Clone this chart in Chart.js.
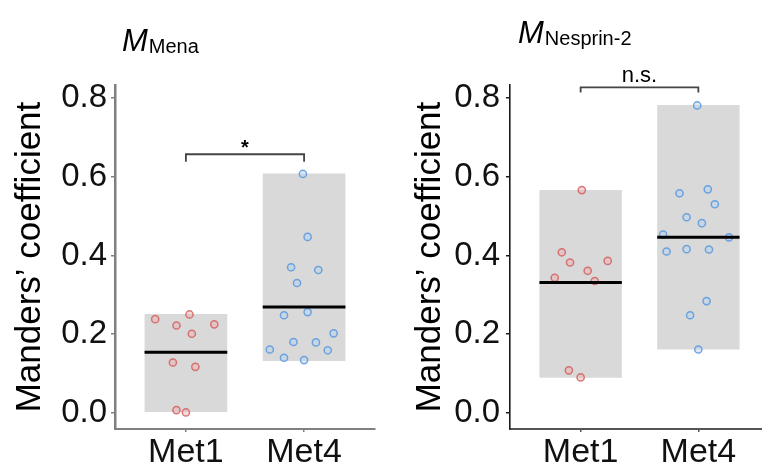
<!DOCTYPE html>
<html>
<head>
<meta charset="utf-8">
<script src="https://cdn.jsdelivr.net/npm/chart.js@4.4.1/dist/chart.umd.min.js"></script>
<style>
  html, body { margin: 0; padding: 0; background: #fff; overflow: hidden; }
  #wrap { position: relative; width: 762px; height: 467px; overflow: hidden; }
  #left { position: absolute; left: 0; top: 0; }
  #right { position: absolute; left: 381px; top: 0; }
</style>
</head>
<body>
<div id="wrap">
  <canvas id="left" width="381" height="467"></canvas>
  <canvas id="right" width="400" height="467"></canvas>
</div>
<script>
// categories and axes
const categories = ['Met1', 'Met4'];
const categoryPos = [1, 2];
const yTicks = [0, 0.2, 0.4, 0.6, 0.8];
const yLabel = 'Manders\u2019 coefficient';

// M_Mena panel
const menaMet1 = [0.238, 0.250, 0.222, 0.225, 0.201, 0.128, 0.117, 0.007, 0.001];
const menaMet1Jitter = [-0.26, 0.03, -0.08, 0.24, 0.05, -0.11, 0.08, -0.08, 0.0];
const menaMet4 = [0.607, 0.447, 0.370, 0.363, 0.330, 0.248, 0.256, 0.202, 0.180, 0.179, 0.161, 0.159, 0.140, 0.134];
const menaMet4Jitter = [-0.01, 0.03, -0.11, 0.12, -0.06, -0.17, 0.03, 0.25, -0.09, 0.10, -0.29, 0.20, -0.17, 0.0];
const menaRangeLow = [0.0, 0.132];
const menaRangeHigh = [0.251, 0.608];
const menaMean = [0.154, 0.269];

// M_Nesprin-2 panel
const nesMet1 = [0.566, 0.408, 0.382, 0.386, 0.361, 0.343, 0.335, 0.108, 0.090];
const nesMet1Jitter = [0.01, -0.16, -0.09, 0.23, 0.06, -0.22, 0.12, -0.10, 0.0];
const nesMet4 = [0.781, 0.558, 0.568, 0.530, 0.497, 0.482, 0.453, 0.446, 0.410, 0.416, 0.415, 0.284, 0.248, 0.161];
const nesMet4Jitter = [-0.01, -0.16, 0.08, 0.14, -0.10, 0.03, -0.30, 0.26, -0.27, -0.10, 0.09, 0.07, -0.07, 0.0];
const nesRangeLow = [0.089, 0.161];
const nesRangeHigh = [0.566, 0.782];
const nesMean = [0.331, 0.446];

// significance brackets: [bar height, arm end]
const menaBracket = [0.657, 0.638];
const nesBracket = [0.827, 0.814];
const sigLabels = ['*', 'n.s.'];

const FONT = '"Liberation Sans", Arial, Helvetica, sans-serif';
const groupColors = [
  { border: 'rgba(210, 96, 96, 0.85)', fill: 'rgba(240, 170, 170, 0.45)' },
  { border: 'rgba(88, 152, 222, 0.85)', fill: 'rgba(180, 210, 242, 0.45)' }
];

// draws the panel title (M with subscript) and the significance bracket
const extrasPlugin = {
  id: 'panelExtras',
  afterDraw(chart, args, opts) {
    const ctx = chart.ctx;
    const xs = chart.scales.x;
    const ys = chart.scales.y;
    const area = chart.chartArea;
    ctx.save();
    ctx.fillStyle = '#000';
    ctx.textBaseline = 'alphabetic';
    ctx.textAlign = 'left';
    ctx.font = 'italic 31px ' + FONT;
    const mx = area.left + opts.titleDx;
    ctx.fillText('M', mx, opts.titleBaseline);
    const mw = ctx.measureText('M').width;
    ctx.font = '20px ' + FONT;
    ctx.fillText(opts.sub, mx + mw + 1, opts.titleBaseline + 2);

    const x1 = xs.getPixelForValue(categoryPos[0]);
    const x2 = xs.getPixelForValue(categoryPos[1]);
    const yb = ys.getPixelForValue(opts.bracket[0]);
    const ya = ys.getPixelForValue(opts.bracket[1]);
    ctx.strokeStyle = '#454545';
    ctx.lineWidth = 1.8;
    ctx.beginPath();
    ctx.moveTo(x1, ya);
    ctx.lineTo(x1, yb);
    ctx.lineTo(x2, yb);
    ctx.lineTo(x2, ya);
    ctx.stroke();
    ctx.textAlign = 'center';
    ctx.font = opts.labelFont + ' ' + FONT;
    ctx.fillText(opts.label, (x1 + x2) / 2, yb - opts.labelGap);
    ctx.restore();
  }
};

function buildPanel(canvasId, p) {
  const ctx = document.getElementById(canvasId).getContext('2d');
  const groups = [p.met1, p.met4];
  const jitters = [p.met1Jitter, p.met4Jitter];

  const datasets = [{
    type: 'bar',
    data: categoryPos.map((c, i) => ({ x: c, y: [p.low[i], p.high[i]] })),
    backgroundColor: '#d9d9d9',
    borderWidth: 0,
    barPercentage: 0.7,
    categoryPercentage: 1,
    order: 3
  }];

  groups.forEach((vals, g) => {
    datasets.push({
      type: 'scatter',
      data: vals.map((v, i) => ({ x: categoryPos[g] + jitters[g][i], y: v })),
      pointRadius: 3.6,
      pointBorderWidth: 1.5,
      pointBackgroundColor: groupColors[g].fill,
      pointBorderColor: groupColors[g].border,
      order: 2
    });
  });

  p.mean.forEach((m, i) => {
    datasets.push({
      type: 'line',
      data: [{ x: categoryPos[i] - 0.35, y: m }, { x: categoryPos[i] + 0.35, y: m }],
      borderColor: '#000',
      borderWidth: 3,
      pointRadius: 0,
      borderCapStyle: 'butt',
      order: 1
    });
  });

  return new Chart(ctx, {
    type: 'scatter',
    data: { datasets },
    options: {
      responsive: false,
      animation: false,
      events: [],
      layout: {
        autoPadding: false,
        padding: { top: 85, left: 0, right: p.rightPad, bottom: 0 }
      },
      plugins: {
        legend: { display: false },
        tooltip: { enabled: false },
        panelExtras: {
          sub: p.sub,
          titleDx: p.titleDx,
          titleBaseline: p.titleBaseline,
          bracket: p.bracket,
          label: p.label,
          labelFont: p.labelFont,
          labelGap: p.labelGap
        }
      },
      scales: {
        x: {
          type: 'linear',
          offset: false,
          min: 0.4,
          max: 2.6,
          afterBuildTicks: s => { s.ticks = categoryPos.map(v => ({ value: v })); },
          afterFit: s => { s.height = 38; },
          ticks: {
            callback: v => categories[categoryPos.indexOf(v)],
            font: { family: FONT, size: 34 },
            color: '#111',
            padding: 0,
            maxRotation: 0
          },
          grid: { offset: false, drawOnChartArea: false, drawTicks: true, tickLength: 3, color: p.xAxisColor, lineWidth: 1.5 },
          border: { display: true, color: p.xAxisColor, width: 2 }
        },
        y: {
          type: 'linear',
          min: -0.041,
          max: 0.833,
          afterBuildTicks: s => { s.ticks = yTicks.map(v => ({ value: v })); },
          afterFit: s => { s.width = p.yWidth; },
          ticks: {
            callback: v => v.toFixed(1),
            font: { family: FONT, size: 33 },
            color: '#111',
            padding: p.tickPad
          },
          grid: { drawOnChartArea: false, drawTicks: true, tickLength: 4, color: p.yAxisColor, lineWidth: 1.5 },
          border: { display: true, color: p.yAxisColor, width: p.yAxisWidth },
          title: {
            display: true,
            text: yLabel,
            font: { family: FONT, size: 35 },
            color: '#000',
            padding: { top: p.titlePad, bottom: 0 }
          }
        }
      }
    },
    plugins: [extrasPlugin]
  });
}

buildPanel('left', {
  met1: menaMet1, met1Jitter: menaMet1Jitter,
  met4: menaMet4, met4Jitter: menaMet4Jitter,
  low: menaRangeLow, high: menaRangeHigh, mean: menaMean,
  bracket: menaBracket, label: sigLabels[0], labelFont: 'bold 20px', labelGap: 0,
  sub: 'Mena', titleDx: 7, titleBaseline: 51,
  yWidth: 115, rightPad: 6, tickPad: 4, titlePad: 9,
  yAxisColor: '#808080', xAxisColor: '#808080', yAxisWidth: 2.5
});

buildPanel('right', {
  met1: nesMet1, met1Jitter: nesMet1Jitter,
  met4: nesMet4, met4Jitter: nesMet4Jitter,
  low: nesRangeLow, high: nesRangeHigh, mean: nesMean,
  bracket: nesBracket, label: sigLabels[1], labelFont: '22px', labelGap: 5,
  sub: 'Nesprin-2', titleDx: 8, titleBaseline: 43,
  yWidth: 129, rightPad: 12, tickPad: 6, titlePad: 28,
  yAxisColor: '#1a1a1a', xAxisColor: '#555555', yAxisWidth: 1.6
});
</script>
</body>
</html>
